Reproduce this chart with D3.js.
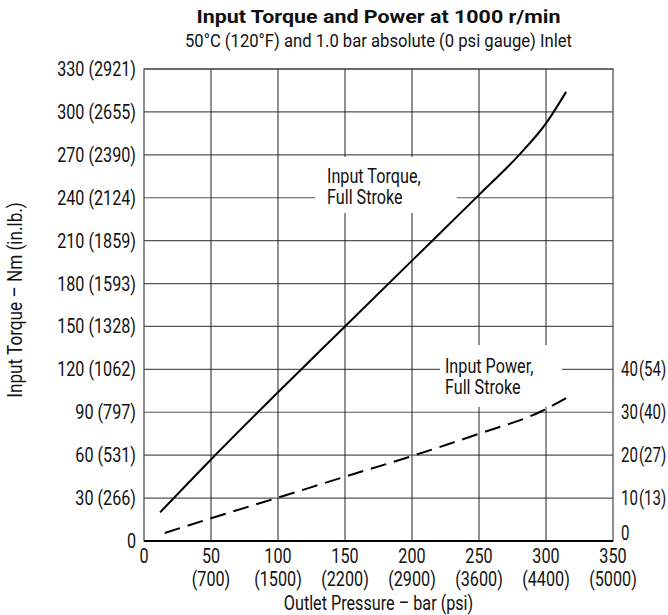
<!DOCTYPE html>
<html><head><meta charset="utf-8">
<script src="https://cdn.jsdelivr.net/npm/d3@7"></script>
<style>
body{margin:0;background:#fff;}
svg text{font-family:Roboto,"Liberation Sans",sans-serif;fill:#111;}
</style></head>
<body><svg id="c" width="668" height="615"></svg>
<script>
// ---- data ----
const pressureTicks = [0, 50, 100, 150, 200, 250, 300, 350];
const psiLabels = ["", "(700)", "(1500)", "(2200)", "(2900)", "(3600)", "(4400)", "(5000)"];
const torqueTicks = [0, 30, 60, 90, 120, 150, 180, 210, 240, 270, 300, 330];
const inlbLabels = ["", "(266)", "(531)", "(797)", "(1062)", "(1328)", "(1593)", "(1859)", "(2124)", "(2390)", "(2655)", "(2921)"];
const powerTicks = [0, 10, 20, 30, 40];
const hpLabels = ["", "(13)", "(27)", "(40)", "(54)"];
// Input Torque, Full Stroke: [bar, Nm]
const torquePressure = [12, 50, 100, 150, 200, 250, 280, 300, 315];
const torqueValues   = [20, 57, 104, 150, 196, 242, 270, 292, 314];
// Input Power, Full Stroke: [bar, kW]
const powerPressure = [11, 50, 100, 150, 200, 250, 297, 315];
const powerValues   = [1.4, 5.3, 10.1, 15, 19.8, 25, 30.3, 33.3];

const svg = d3.select("#c");
const L = 144, R = 613, T = 69, B = 541;
const SX = 0.83, FS = 19.5;
const x = d3.scaleLinear().domain([0, 350]).range([L, R]);
const y = d3.scaleLinear().domain([0, 330]).range([B, T]);
const yP = d3.scaleLinear().domain([0, 110]).range([B, T]);

// condensed text helper
function ct(parent, px, py, s, anchor, extra, sx) {
  return parent.append("text")
    .attr("transform", `translate(${px},${py})${extra || ""} scale(${sx || SX},1)`)
    .attr("text-anchor", anchor || "start").attr("font-size", FS).text(s);
}

// grid
const g = svg.append("g");
g.selectAll("line.h").data(torqueTicks.slice(1)).join("line")
  .attr("x1", L).attr("x2", R).attr("y1", d => y(d)).attr("y2", d => y(d))
  .attr("stroke", "#555").attr("stroke-width", 1.2);
g.selectAll("line.v").data(pressureTicks.slice(1, -1)).join("line")
  .attr("x1", d => x(d)).attr("x2", d => x(d)).attr("y1", T).attr("y2", B)
  .attr("stroke", "#222").attr("stroke-width", 1);
// frame
svg.append("rect").attr("x", L).attr("y", T).attr("width", R - L).attr("height", B - T)
  .attr("fill", "none").attr("stroke", "#444").attr("stroke-width", 1.2);
svg.append("line").attr("x1", L).attr("x2", R).attr("y1", B).attr("y2", B)
  .attr("stroke", "#000").attr("stroke-width", 1.8);

// label boxes (white, covering grid)
svg.append("rect").attr("x", x(127.6)).attr("y", y(268.5))
  .attr("width", x(233.6) - x(127.6)).attr("height", y(229.3) - y(268.5)).attr("fill", "#fff");
svg.append("rect").attr("x", x(220.9)).attr("y", y(137))
  .attr("width", x(312) - x(220.9)).attr("height", y(93.7) - y(137)).attr("fill", "#fff");

// curves
const line = d3.line().curve(d3.curveMonotoneX);
svg.append("path")
  .attr("d", line(torquePressure.map((p, i) => [x(p), y(torqueValues[i])])))
  .attr("fill", "none").attr("stroke", "#000").attr("stroke-width", 2);
const pw = svg.append("path")
  .attr("d", line(powerPressure.map((p, i) => [x(p), yP(powerValues[i])])))
  .attr("fill", "none").attr("stroke", "#000").attr("stroke-width", 2)
  .attr("stroke-dasharray", "16,8");
const len = pw.node().getTotalLength();
pw.attr("stroke-dashoffset", 16 - (len % 24));

// curve labels
function label(px, ty, lines) {
  lines.forEach((s, i) => ct(svg, x(px), y(ty) + i * 21, s));
}
label(136.6, 250, ["Input Torque,", "Full Stroke"]);
label(224.6, 117.5, ["Input Power,", "Full Stroke"]);

// left tick labels
torqueTicks.forEach((d, i) => {
  const t = ct(svg, 136, y(d) + 7, i ? d : "0", "end");
  if (i) t.append("tspan").attr("dx", 4 / SX).text(inlbLabels[i]);
});
// right tick labels
const SXR = 0.77;
powerTicks.forEach((d, i) => {
  const t = ct(svg, 621, yP(d) + (i ? 7 : -1), i ? d : "0", "start", "", SXR);
  if (i) t.append("tspan").attr("dx", 1 / SXR).text(hpLabels[i]);
});
// bottom tick labels
pressureTicks.forEach((d, i) => {
  ct(svg, x(d), 563, d, "middle");
  if (psiLabels[i]) ct(svg, x(d), 586, psiLabels[i], "middle");
});

// axis titles
ct(svg, (L + R) / 2, 610, "Outlet Pressure – bar (psi)", "middle");
ct(svg, 22, 300, "Input Torque – Nm (in.lb.)", "middle", " rotate(-90)", 0.88);

// titles
svg.append("text").attr("x", (L + R) / 2).attr("y", 23).attr("text-anchor", "middle")
  .attr("font-size", 19).attr("font-weight", "bold")
  .attr("textLength", 364).attr("lengthAdjust", "spacingAndGlyphs")
  .text("Input Torque and Power at 1000 r/min");
svg.append("text").attr("x", (L + R) / 2).attr("y", 47).attr("text-anchor", "middle")
  .attr("font-size", 19).attr("textLength", 387).attr("lengthAdjust", "spacingAndGlyphs")
  .text("50°C (120°F) and 1.0 bar absolute (0 psi gauge) Inlet");
</script></body></html>
